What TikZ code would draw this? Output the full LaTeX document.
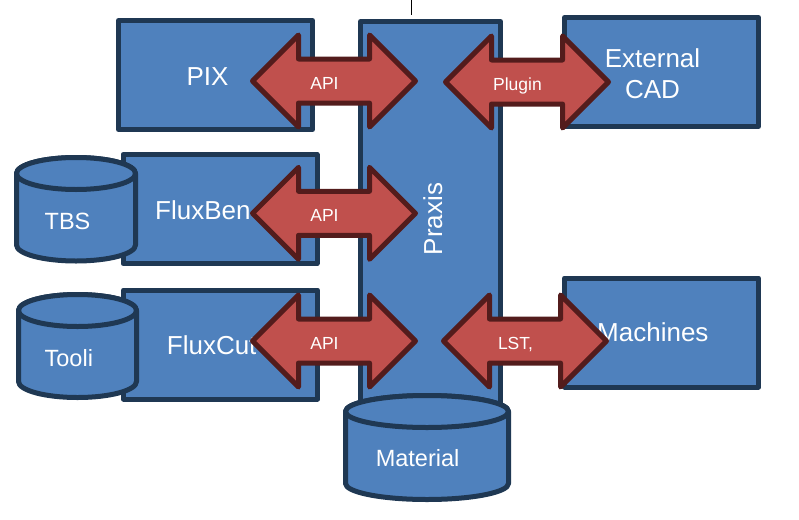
\documentclass[tikz,border=0pt]{standalone}
\usepackage{fontspec}
\setmainfont{Liberation Sans}
\usepackage{tikz}
\usetikzlibrary{positioning}
\definecolor{boxblue}{HTML}{4F81BD}
\definecolor{boxedge}{HTML}{1F3853}
\definecolor{linkred}{HTML}{C0504D}
\definecolor{linkedge}{HTML}{531C1C}
\tikzset{block/.style={draw=boxedge, fill=boxblue, line width=5pt, line join=round, minimum width=194pt, minimum height=109pt, inner sep=0pt},
    blocktext/.style={text=white, font=\fontsize{26}{31}\selectfont, inner sep=0pt},
    drum/.style={draw=boxedge, fill=boxblue, line width=5pt, line join=round},
    drumtext/.style={text=white, font=\fontsize{23.5}{28}\selectfont, inner sep=0pt, anchor=base},
    linktext/.style={text=white, font=\fontsize{17.5}{21}\selectfont, inner sep=0pt, anchor=base},
    pics/link/.style={code={
        \draw[draw=linkedge, fill=linkred, line width=5pt, line join=round] (0,0) -- (46,-46) -- (46,-22) -- (117,-22) -- (117,-46) -- (163,0) -- (117,46) -- (117,22) -- (46,22) -- (46,46) -- cycle;
        \node[linktext] (-label) at (72,8) {#1};
    }},
}
\newcommand{\drum}[4]{%
    \draw[drum] (#1-#4,#2+16) -- (#1-#4,#3-16) arc[start angle=180, end angle=360, x radius=#4pt, y radius=16pt] -- (#1+#4,#2+16) arc[start angle=0, end angle=180, x radius=#4pt, y radius=16pt] -- cycle;
    \draw[drum] (#1,#2+16) ellipse[x radius=#4pt, y radius=16pt];
}

\begin{document}
\begin{tikzpicture}[x=1pt, y=-1pt]
    \useasboundingbox (0,0) rectangle (799,519);
    \draw[line width=1pt] (411.5,0) -- (411.5,15);
    % blocks
    \node[block] (pix) at (215.5,75) {};
    \node[block] (fluxben) at (220,209) {};
    \node[block] (fluxcut) at (220.5,344.5) {};
    \node[block, minimum width=140pt, minimum height=399pt] (praxis) at (430.5,221) {};
    \node[block] (cad) at (661.5,72) {};
    \node[block] (machines) at (661.5,332.5) {};
    \node[blocktext, anchor=base] (pixtext) at (207.5,85) {PIX};
    \node[blocktext, anchor=base west] (fluxbentext) at (155,219.3) {FluxBen};
    \node[blocktext, anchor=base west] (fluxcuttext) at (166.7,354.3) {FluxCut};
    \node[blocktext, anchor=base, rotate=90] (praxistext) at (442,219) {Praxis};
    \node[blocktext, align=center, anchor=base] (cadtext) at (652.5,98) {External\\CAD};
    \node[blocktext, anchor=base west] (machinestext) at (597,341.7) {Machines};
    % stores
    \drum{76}{157.5}{261}{59.5}
    \drum{77.5}{294.5}{397.5}{59}
    \drum{427}{395.5}{499.5}{81.5}
    \node[drumtext] (tbs) at (67.5,229.3) {TBS};
    \node[drumtext] (tooli) at (68.8,366) {Tooli};
    \node[drumtext] (material) at (417.6,466) {Material};
    % links
    \pic (pixapi) at (252.5,81) {link=API};
    \pic (benapi) at (252.5,213.3) {link=API};
    \pic (cutapi) at (252.5,341) {link=API};
    \pic (plugin) at (445.5,82) {link=Plugin};
    \pic (lst) at (443.5,341) {link={LST,}};
\end{tikzpicture}
\end{document}
